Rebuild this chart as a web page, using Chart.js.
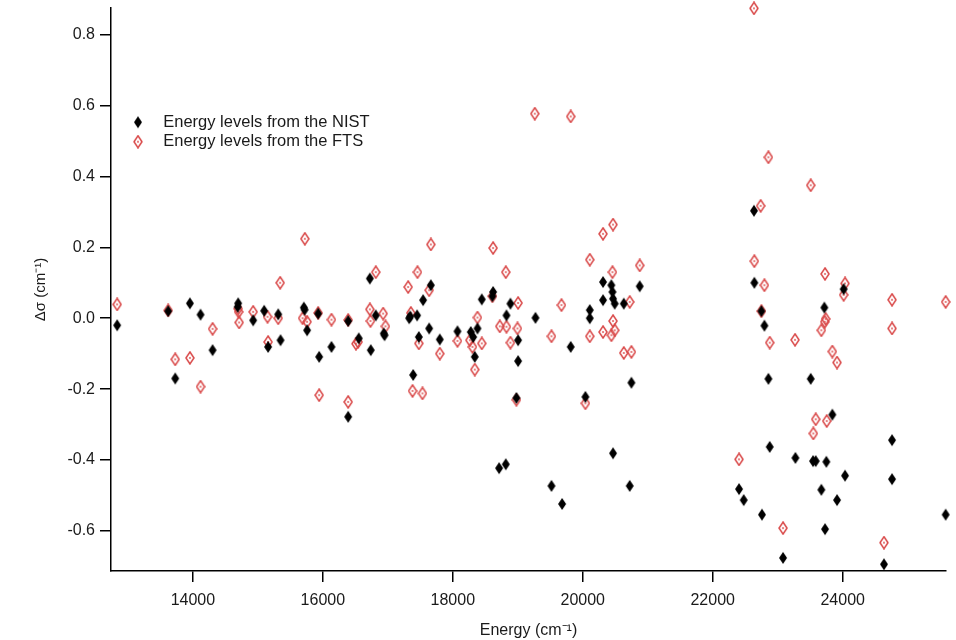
<!DOCTYPE html>
<html>
<head>
<meta charset="utf-8">
<title>Energy level differences</title>
<script src="https://cdn.jsdelivr.net/npm/chart.js@4"></script>
<style>
  html, body { margin: 0; padding: 0; background: #fff; }
  #c { display: block; }
</style>
</head>
<body>
<canvas id="c" width="956" height="640"></canvas>
<script>
// Level energies (cm^-1) and deviations Δσ (cm^-1)
const nistEnergy = [
  12835, 13620, 13954, 14118, 14303, 13728, 14697, 14690, 14928, 15097,
  15158, 15313, 15349, 15708, 15720, 15758, 15928, 15943, 16133, 16390,
  16390, 16553, 16723, 16815, 16738, 16938, 16950, 17328, 17345, 17451,
  17543, 17662, 17636, 17477, 17800, 17390, 18072, 18277, 18313, 18380,
  18446, 18610, 18620, 18338, 18887, 18826, 19005, 19005, 18979, 19272,
  19815, 20108, 20108, 20041, 20312, 20312, 20440, 20457, 20466, 20492,
  20631, 20877, 20749, 18712, 18815, 19518, 19682, 20466, 20723, 22635,
  22641, 22749, 22795, 22857, 23508, 23718, 24015, 22877, 23272, 23544,
  23585, 23749, 23841, 24036, 24759, 24759, 22405, 22477, 22758, 23672,
  23913, 23728, 23082, 24635, 25585
];
const nistDelta = [
  -0.02, 0.02, 0.042, 0.01, -0.09, -0.17, 0.042, 0.032, -0.006, 0.021,
  -0.081, 0.011, -0.062, 0.03, 0.024, -0.034, 0.013, -0.109, -0.081, -0.008,
  -0.278, -0.057, 0.112, 0.008, -0.09, -0.043, -0.048, 0.0, 0.005, 0.008,
  0.051, 0.093, -0.029, -0.053, -0.06, -0.16, -0.037, -0.039, -0.053, -0.029,
  0.053, 0.062, 0.074, -0.109, 0.041, 0.008, -0.062, -0.121, -0.225, 0.001,
  -0.081, 0.023, 0.0, -0.222, 0.102, 0.051, 0.093, 0.074, 0.055, 0.041,
  0.041, 0.09, -0.182, -0.423, -0.412, -0.473, -0.524, -0.381, -0.473, 0.303,
  0.1, 0.02, -0.021, -0.171, -0.171, 0.03, 0.082, -0.363, -0.394, -0.403,
  -0.403, -0.405, -0.272, -0.444, -0.344, -0.454, -0.482, -0.513, -0.554, -0.484,
  -0.513, -0.595, -0.676, -0.694, -0.554
];
const ftsEnergy = [
  12835, 13620, 14303, 13728, 13954, 14118, 14697, 14705, 14712, 14928,
  15149, 15158, 15313, 15343, 15723, 15688, 15758, 15928, 15943, 16133,
  16390, 16390, 16543, 16510, 16815, 16723, 16733, 16928, 16964, 17313,
  17456, 17636, 17662, 17354, 17477, 17800, 17380, 17533, 18072, 18262,
  18303, 18380, 18446, 18620, 18610, 18338, 18815, 19005, 18723, 18826,
  18995, 18887, 18979, 19672, 19518, 20108, 20041, 20108, 20312, 20466,
  20457, 20723, 20877, 20312, 20466, 20492, 20441, 20631, 20749, 19262,
  19815, 22635, 22857, 23508, 22738, 22641, 22795, 22749, 22877, 23267,
  23728, 23738, 23725, 23672, 24036, 24015, 23841, 23913, 24759, 24759,
  25585, 23585, 23754, 23549, 22405, 23082, 24635
];
const ftsDelta = [
  0.039, 0.022, -0.03, -0.116, -0.112, -0.193, 0.027, 0.018, -0.012, 0.018,
  0.004, -0.067, 0.0, 0.1, 0.224, 0.0, -0.01, 0.015, -0.217, -0.004,
  -0.005, -0.236, -0.067, -0.072, 0.13, 0.025, -0.008, 0.013, -0.023, 0.088,
  0.13, 0.079, 0.208, 0.015, -0.071, -0.1, -0.205, -0.212, -0.064, -0.062,
  -0.081, 0.002, -0.071, 0.198, 0.062, -0.145, 0.13, 0.043, -0.023, -0.024,
  -0.029, -0.069, -0.23, 0.037, -0.051, -0.051, -0.24, 0.165, 0.238, 0.264,
  0.13, 0.046, 0.149, -0.039, -0.008, -0.034, -0.048, -0.098, -0.095, 0.577,
  0.569, 0.874, 0.454, 0.375, 0.317, 0.161, 0.093, 0.02, -0.069, -0.061,
  0.125, -0.002, -0.01, -0.034, 0.098, 0.066, -0.094, -0.125, 0.052, -0.029,
  0.046, -0.285, -0.29, -0.325, -0.398, -0.592, -0.633
];
const energyTicks = [14000, 16000, 18000, 20000, 22000, 24000];
const deltaTicks = [-0.6, -0.4, -0.2, 0.0, 0.2, 0.4, 0.6, 0.8];

const FONT = "'Liberation Sans', Arial, sans-serif";
const TEXT = '#1a1a1a';
const RED = '#d94848';

// Tall diamond markers: filled black, open red with a centre dot
function diamond(fill, stroke) {
  const cv = document.createElement('canvas');
  cv.width = 10; cv.height = 14;
  const g = cv.getContext('2d');
  g.beginPath();
  g.moveTo(5, 1); g.lineTo(9, 7); g.lineTo(5, 13); g.lineTo(1, 7); g.closePath();
  if (fill) { g.fillStyle = fill; g.fill(); }
  if (stroke) {
    g.strokeStyle = stroke; g.lineWidth = 1.5; g.stroke();
    g.fillStyle = stroke; g.beginPath(); g.arc(5, 7, 0.9, 0, Math.PI * 2); g.fill();
  }
  return cv;
}
const filledDiamond = diamond('#000', null);
const openDiamond = diamond(null, RED);

const toPoints = (xs, ys) => xs.map((x, i) => ({ x, y: ys[i] }));

// Places the legend block inside the plot, upper left
const legendSpot = {
  id: 'legendSpot',
  afterLayout(chart) {
    const lg = chart.legend;
    const w = lg.width, h = lg.height;
    lg.left = 118; lg.top = 111;
    lg.right = lg.left + w; lg.bottom = lg.top + h;
  }
};

Chart.defaults.font.family = FONT;
Chart.defaults.color = TEXT;

new Chart(document.getElementById('c'), {
  type: 'scatter',
  data: {
    datasets: [
      {
        label: 'Energy levels from the NIST',
        data: toPoints(nistEnergy, nistDelta),
        pointStyle: filledDiamond,
        pointRadius: 5,
        clip: false
      },
      {
        label: 'Energy levels from the FTS',
        data: toPoints(ftsEnergy, ftsDelta),
        pointStyle: openDiamond,
        pointRadius: 5,
        clip: false
      }
    ]
  },
  options: {
    responsive: false,
    animation: false,
    events: [],
    devicePixelRatio: 1,
    layout: { padding: { left: 0, top: 8, right: 10, bottom: 0 } },
    plugins: {
      tooltip: { enabled: false },
      legend: {
        position: 'chartArea',
        align: 'start',
        labels: {
          usePointStyle: true,
          pointStyleWidth: 34,
          padding: 3,
          font: { size: 16.5, family: FONT },
          color: TEXT
        }
      }
    },
    scales: {
      x: {
        type: 'linear',
        min: 12740,
        max: 25590,
        afterBuildTicks: s => { s.ticks = energyTicks.map(v => ({ value: v })); },
        afterFit: s => { s.height = 69; s.paddingLeft = 0; s.paddingRight = 0; },
        ticks: {
          autoSkip: false, maxRotation: 0, padding: 9,
          font: { size: 16 }, color: TEXT,
          callback: v => String(v)
        },
        grid: { drawOnChartArea: false, drawTicks: true, tickLength: 11, color: '#000', lineWidth: 1.5 },
        border: { display: true, color: '#000', width: 1.5 },
        title: { display: true, text: 'Energy (cm⁻¹)', font: { size: 16 }, color: TEXT, padding: { top: 0, bottom: 0 } }
      },
      y: {
        type: 'linear',
        min: -0.713,
        max: 0.875,
        afterBuildTicks: s => { s.ticks = deltaTicks.map(v => ({ value: v })); },
        afterFit: s => { s.width = 111; s.paddingTop = 0; s.paddingBottom = 0; },
        ticks: {
          autoSkip: false, padding: 5,
          font: { size: 16 }, color: TEXT,
          callback: v => v.toFixed(1)
        },
        grid: { drawOnChartArea: false, drawTicks: true, tickLength: 11, color: '#000', lineWidth: 1.5 },
        border: { display: true, color: '#000', width: 1.5 },
        title: { display: true, text: 'Δσ (cm⁻¹)', font: { size: 15 }, color: TEXT, padding: { top: 32, bottom: 0 } }
      }
    }
  },
  plugins: [legendSpot]
});
</script>
</body>
</html>
